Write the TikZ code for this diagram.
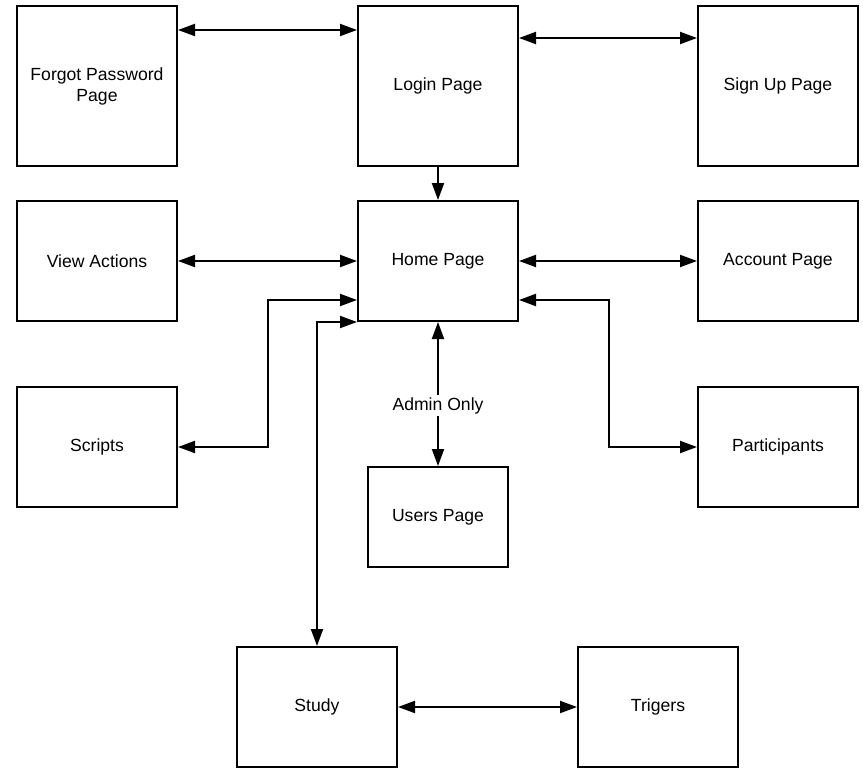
\documentclass[tikz,border=0pt]{standalone}
\usepackage{fontspec}
\setmainfont{Liberation Sans}
\usetikzlibrary{arrows.meta}

\begin{document}
\begin{tikzpicture}[x=1pt,y=-1pt,>={Triangle[length=17pt,width=12pt]}]
\tikzstyle{page}=[rectangle, minimum width=160pt, minimum height=160pt, line width=2pt, draw=black, align=center, font=\fontsize{17.6}{21}\selectfont]
\tikzstyle{smallpage}=[page, minimum height=120pt]
\tikzstyle{connect}=[<->, line width=2pt]
\useasboundingbox (0,0) rectangle (863,768);
	\node[page] (forgot) at (97,86) {Forgot Password\\Page};
	\node[page] (login) at (438,86) {Login Page};
	\node[page] (signup) at (778,86) {Sign Up Page};
	\node[smallpage] (view) at (97,261) {View Actions};
	\node[smallpage] (home) at (438,261) {Home Page};
	\node[smallpage] (account) at (778,261) {Account Page};
	\node[smallpage] (scripts) at (97,447) {Scripts};
	\node[smallpage] (participants) at (778,447) {Participants};
	\node[page, minimum width=140pt, minimum height=100pt] (users) at (438,517) {Users Page};
	\node[smallpage] (study) at (317,707) {Study};
	\node[smallpage] (trigers) at (658,707) {Trigers};

	\draw[connect] ([yshift=-25pt]forgot.north east) -- ([yshift=-25pt]login.north west);
	\draw[connect] ([yshift=-33pt]login.north east) -- ([yshift=-33pt]signup.north west);
	\draw[->, line width=2pt] (login) -- (home);
	\path
		(view) edge [connect] (home)
		(home) edge [connect] (account)
		(study) edge [connect] (trigers)
		(home) edge [connect] node[pos=0.58, fill=white, inner sep=2pt, font=\fontsize{17.6}{21}\selectfont] {Admin Only} (users);
	\draw[connect] (scripts.east) -- ++(90,0) |- ([yshift=22pt]home.south west);
	\draw[connect] ([yshift=22pt]home.south east) -- ++(90,0) |- (participants.west);
	\draw[connect] (home.south west) -| (study.north);
\end{tikzpicture}
\end{document}
